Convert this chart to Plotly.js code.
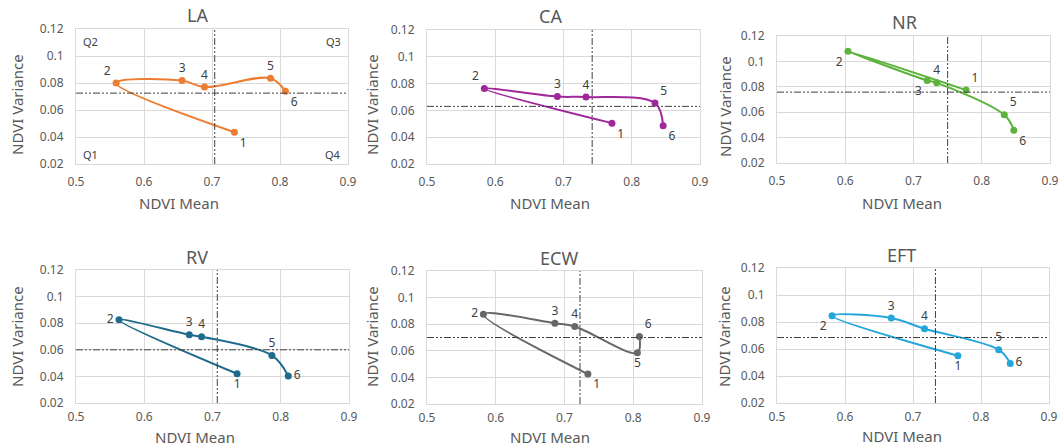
<!DOCTYPE html>
<html>
<head>
<meta charset="utf-8">
<script src="https://cdn.plot.ly/plotly-3.0.1.min.js"></script>
<style>html,body{margin:0;padding:0;background:#fff;}#chart{width:1062px;height:448px;}</style>
</head>
<body>
<div id="chart"></div>
<script>
// ---- data ----
const pointLabels = ["1", "2", "3", "4", "5", "6"];
const panelNames = ["LA", "CA", "NR", "RV", "ECW", "EFT"];

const laMean = [0.733, 0.559, 0.656, 0.689, 0.786, 0.808];
const laVar  = [0.0435, 0.0800, 0.0818, 0.0770, 0.0835, 0.0738];

const caMean = [0.771, 0.584, 0.691, 0.733, 0.834, 0.846];
const caVar  = [0.0505, 0.0763, 0.0703, 0.0700, 0.0655, 0.0485];

const nrMean = [0.777, 0.604, 0.720, 0.734, 0.833, 0.847];
const nrVar  = [0.0774, 0.1080, 0.0850, 0.0831, 0.0579, 0.0458];

const rvMean = [0.736, 0.563, 0.666, 0.684, 0.787, 0.811];
const rvVar  = [0.0420, 0.0825, 0.0713, 0.0698, 0.0558, 0.0403];

const ecwMean = [0.734, 0.582, 0.686, 0.715, 0.806, 0.809];
const ecwVar  = [0.0425, 0.0875, 0.0808, 0.0783, 0.0585, 0.0708];

const eftMean = [0.766, 0.581, 0.668, 0.717, 0.826, 0.843];
const eftVar  = [0.0550, 0.0847, 0.0830, 0.0750, 0.0595, 0.0493];

// threshold lines (mean, variance) per panel
const meanThreshold = [0.704, 0.742, 0.750, 0.707, 0.7225, 0.733];
const varThreshold  = [0.0725, 0.063, 0.0758, 0.060, 0.070, 0.0685];

const quadrantLabels = ["Q1", "Q2", "Q3", "Q4"];

// ---- styling ----
const colors = ["#ED7D31", "#A0289B", "#5DB33C", "#1F6B8B", "#676767", "#22A6DC"];
const textPos = [
  ["bottom right", "top left", "top center", "top center", "top center", "bottom right"],
  ["bottom right", "top left", "top center", "top center", "top right", "bottom right"],
  ["top right", "bottom left", "bottom left", "top center", "top right", "bottom right"],
  ["bottom center", "middle left", "top center", "top center", "top center", "middle right"],
  ["bottom right", "middle left", "top center", "top center", "bottom center", "top right"],
  ["bottom center", "bottom left", "top center", "top center", "top center", "middle right"]
];
const W = 1062, H = 448;
// pixel boxes [x0, x1, yTop, yBottom]
const boxes = [
  [76, 348, 29, 164],
  [427, 700, 30, 164],
  [777, 1050, 36, 163],
  [76, 349, 270, 403],
  [427, 702, 271, 404],
  [777, 1049, 268, 403]
];
const xStandoff = [7, 7, 7, 3, 3, 3];
const titlePos = [[197, 15], [550, 16], [904, 22], [197, 257], [559, 258], [901, 255]];
const xTitlePos = [[179, 203], [550, 203], [902, 203], [195, 437], [550, 437], [902, 436]];
const yTitlePos = [[17, 105], [372, 105], [725, 107], [17, 337], [372, 337], [724, 337]];

const means = [laMean, caMean, nrMean, rvMean, ecwMean, eftMean];
const vars = [laVar, caVar, nrVar, rvVar, ecwVar, eftVar];

const FONT = "Noto Sans, Open Sans, sans-serif";
const dashPat = "7px,2px,2px,2px,2px,2px";

const traces = [];
const layout = {
  width: W, height: H,
  margin: {l: 0, r: 0, t: 0, b: 0},
  paper_bgcolor: "#ffffff",
  plot_bgcolor: "#ffffff",
  showlegend: false,
  font: {family: FONT, color: "#595959"},
  shapes: [],
  annotations: []
};

for (let i = 0; i < 6; i++) {
  const sfx = i === 0 ? "" : String(i + 1);
  const b = boxes[i];
  traces.push({
    type: "scatter",
    mode: "lines+markers+text",
    x: means[i], y: vars[i],
    text: pointLabels,
    textposition: textPos[i],
    textfont: {family: FONT, size: 12, color: "#404040"},
    line: {color: colors[i], width: 2, shape: "spline", smoothing: 1},
    marker: {color: colors[i], size: 7},
    cliponaxis: false,
    xaxis: "x" + sfx, yaxis: "y" + sfx,
    hoverinfo: "x+y"
  });
  const axCommon = {
    showgrid: true, gridcolor: "#d9d9d9", gridwidth: 1,
    showline: true, linecolor: "#d9d9d9", linewidth: 1, mirror: true,
    zeroline: false, ticks: "",
    tickfont: {family: FONT, size: 12, color: "#595959"}
  };
  layout["xaxis" + sfx] = Object.assign({}, axCommon, {
    domain: [b[0] / W, b[1] / W],
    range: [0.5, 0.9], dtick: 0.1, tick0: 0.5,
    ticklabelstandoff: xStandoff[i],
    anchor: "y" + sfx
  });
  layout["yaxis" + sfx] = Object.assign({}, axCommon, {
    domain: [1 - b[3] / H, 1 - b[2] / H],
    range: [0.02, 0.12], dtick: 0.02, tick0: 0.02,
    ticklabelstandoff: 9,
    anchor: "x" + sfx
  });
  const xr = "x" + sfx, yr = "y" + sfx;
  layout.shapes.push({
    type: "line", xref: xr, yref: yr + " domain",
    x0: meanThreshold[i], x1: meanThreshold[i], y0: 0, y1: 1,
    line: {color: "#404040", width: 1, dash: dashPat}
  });
  layout.shapes.push({
    type: "line", xref: xr + " domain", yref: yr,
    x0: 0, x1: 1, y0: varThreshold[i], y1: varThreshold[i],
    line: {color: "#404040", width: 1, dash: dashPat}
  });
  // titles
  layout.annotations.push({
    xref: "paper", yref: "paper",
    x: titlePos[i][0] / W, y: 1 - titlePos[i][1] / H,
    text: panelNames[i], showarrow: false,
    xanchor: "center", yanchor: "middle",
    font: {family: FONT, size: 18, color: "#595959"}
  });
  layout.annotations.push({
    xref: "paper", yref: "paper",
    x: xTitlePos[i][0] / W, y: 1 - xTitlePos[i][1] / H,
    text: "NDVI Mean", showarrow: false,
    xanchor: "center", yanchor: "middle",
    font: {family: FONT, size: 15, color: "#595959"}
  });
  layout.annotations.push({
    xref: "paper", yref: "paper",
    x: yTitlePos[i][0] / W, y: 1 - yTitlePos[i][1] / H,
    text: "NDVI Variance", showarrow: false, textangle: -90,
    xanchor: "center", yanchor: "middle",
    font: {family: FONT, size: 15, color: "#595959"}
  });
}

// quadrant labels in LA panel (Q1 bottom-left, Q2 top-left, Q3 top-right, Q4 bottom-right)
const qx = [0.02, 0.02, 0.98, 0.98];
const qy = [0.07, 0.91, 0.91, 0.07];
const qanch = ["left", "left", "right", "right"];
for (let q = 0; q < 4; q++) {
  layout.annotations.push({
    xref: "x domain", yref: "y domain",
    x: qx[q], y: qy[q], text: quadrantLabels[q], showarrow: false,
    xanchor: qanch[q], yanchor: "middle",
    font: {family: FONT, size: 11, color: "#404040"}
  });
}

Plotly.newPlot("chart", traces, layout, {displayModeBar: false, staticPlot: true});
</script>
</body>
</html>
